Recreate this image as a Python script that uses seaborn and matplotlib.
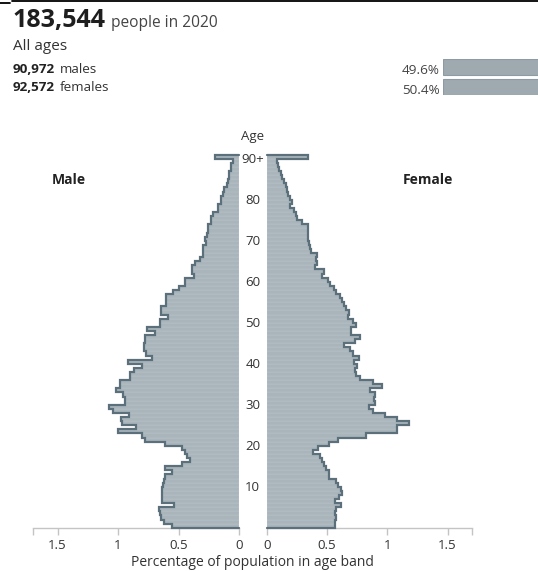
import numpy as np
import pandas as pd
import matplotlib
matplotlib.use("Agg")
import matplotlib.pyplot as plt
from matplotlib.lines import Line2D
import matplotlib.transforms as mtransforms
import seaborn as sns

# ---------------- data ----------------
ages = list(range(91))
age_tick_values = [10, 20, 30, 40, 50, 60, 70, 80, 90]
age_tick_labels = ["10", "20", "30", "40", "50", "60", "70", "80", "90+"]

male = [0.55, 0.62, 0.645, 0.65, 0.66, 0.54, 0.635, 0.64, 0.64, 0.64,
        0.625, 0.62, 0.61, 0.555, 0.61, 0.47, 0.405, 0.43, 0.445, 0.47,
        0.61, 0.78, 0.805, 1.00, 0.85, 0.97, 0.975, 0.905, 1.04, 1.075,
        0.94, 0.94, 0.96, 1.02, 0.98, 0.98, 0.90, 0.90, 0.87, 0.80,
        0.915, 0.72, 0.77, 0.785, 0.785, 0.775, 0.775, 0.695, 0.76, 0.655,
        0.655, 0.59, 0.645, 0.645, 0.60, 0.60, 0.60, 0.545, 0.50, 0.445,
        0.445, 0.37, 0.39, 0.39, 0.364, 0.322, 0.295, 0.295, 0.295, 0.275,
        0.28, 0.267, 0.253, 0.253, 0.231, 0.231, 0.217, 0.17, 0.17, 0.149,
        0.149, 0.13, 0.12, 0.10, 0.095, 0.08, 0.08, 0.066, 0.066, 0.052,
        0.20]

female = [0.57, 0.57, 0.578, 0.57, 0.578, 0.614, 0.565, 0.597, 0.625, 0.614,
          0.592, 0.578, 0.515, 0.515, 0.488, 0.477, 0.455, 0.44, 0.385, 0.427,
          0.515, 0.592, 0.826, 1.08, 1.08, 1.176, 1.08, 0.978, 0.88, 0.85,
          0.895, 0.887, 0.90, 0.854, 0.955, 0.881, 0.771, 0.744, 0.73, 0.752,
          0.725, 0.766, 0.716, 0.69, 0.642, 0.73, 0.771, 0.70, 0.70, 0.738,
          0.716, 0.675, 0.68, 0.661, 0.642, 0.625, 0.606, 0.578, 0.559, 0.523,
          0.509, 0.46, 0.476, 0.40, 0.413, 0.405, 0.413, 0.367, 0.36, 0.35,
          0.344, 0.339, 0.339, 0.344, 0.289, 0.253, 0.239, 0.228, 0.196, 0.207,
          0.19, 0.179, 0.168, 0.157, 0.14, 0.129, 0.118, 0.10, 0.09, 0.083,
          0.344]

x_ticks = [0, 0.5, 1, 1.5]
x_tick_labels = ["0", "0.5", "1", "1.5"]

total_people = "183,544"
year_text = "people in 2020"
sex_labels = ["males", "females"]
sex_counts = ["90,972", "92,572"]
sex_shares = [49.6, 50.4]

# ---------------- style ----------------
sns.set_theme(style="white")
plt.rcParams['font.family'] = ['Open Sans', 'DejaVu Sans']

FILL = "#a9b4bb"
STRIPE = "#bcc5cb"
EDGE = "#5c707b"
AXIS = "#c4c4c4"
TXT = "#333333"

W, H = 538, 571
fig = plt.figure(figsize=(W / 100, H / 100), dpi=100)
fig.patch.set_facecolor("white")


def ax_rect(x0, y0, x1, y1):
    return [x0 / W, 1 - y1 / H, (x1 - x0) / W, (y1 - y0) / H]


ax_m = fig.add_axes(ax_rect(32.7, 154.6, 239.0, 527.7))
ax_f = fig.add_axes(ax_rect(266.7, 154.6, 472.3, 527.7))

df = pd.DataFrame({"age": ages, "male": male, "female": female})

XMAX = 1.705
for ax, col, xlim in ((ax_m, "male", (XMAX, 0)), (ax_f, "female", (0, XMAX))):
    sns.barplot(data=df, x=col, y="age", orient="h", native_scale=True,
                width=1.0, color=FILL, saturation=1, edgecolor=STRIPE,
                linewidth=0.35, errorbar=None, ax=ax)
    vals = df[col].to_numpy()
    xs = np.concatenate([[0], np.repeat(vals, 2), [0]])
    ys = np.concatenate([[-0.5], np.ravel(np.column_stack([df["age"] - 0.5, df["age"] + 0.5])), [90.5]])
    ax.plot(xs, ys, color=EDGE, lw=1.6, solid_joinstyle="miter", clip_on=False, zorder=5)
    ax.set_xlim(*xlim)
    ax.set_ylim(-0.5, 90.5)
    ax.set_xticks(x_ticks + [XMAX])
    ax.set_xticklabels(x_tick_labels + [""])
    ax.set_yticks([])
    ax.set_xlabel("")
    ax.set_ylabel("")
    for s in ("left", "right", "top"):
        ax.spines[s].set_visible(False)
    ax.spines["bottom"].set_color(AXIS)
    ax.spines["bottom"].set_linewidth(1.0)
    ax.tick_params(axis="x", bottom=True, direction="out", length=5, width=1.0,
                   color=AXIS, labelsize=9.5, labelcolor=TXT, pad=3)
    ax.set_facecolor("none")

# age labels between panels
blend = mtransforms.blended_transform_factory(fig.transFigure, ax_m.transData)
shift = mtransforms.ScaledTranslation(0, -2.5 / 100, fig.dpi_scale_trans)
for v, lab in zip(age_tick_values, age_tick_labels):
    fig.text(252.7 / W, v, lab, transform=blend + shift, ha="center", va="center",
             fontsize=9.5, color=TXT)
fig.text(252.7 / W, 1 - 140 / H, "Age", ha="center", va="baseline", fontsize=9.5, color=TXT)

fig.text(69 / W, 1 - 184 / H, "Male", ha="center", va="baseline", fontsize=10,
         fontweight="bold", color="#222222")
fig.text(428 / W, 1 - 184 / H, "Female", ha="center", va="baseline", fontsize=10,
         fontweight="bold", color="#222222")

fig.text(252.7 / W, 1 - 566.5 / H, "Percentage of population in age band",
         ha="center", va="baseline", fontsize=10, color=TXT)

# ---------------- header ----------------
renderer = fig.canvas.get_renderer()


def pair(x, y, bold_txt, reg_txt, size_b, size_r, col_b="#222222", col_r=TXT):
    t = fig.text(x / W, 1 - y / H, bold_txt, ha="left", va="baseline",
                 fontsize=size_b, fontweight="bold", color=col_b)
    bb = t.get_window_extent(renderer=renderer)
    fig.text((bb.x1 + size_r * 0.45) / W, 1 - y / H, reg_txt, ha="left",
             va="baseline", fontsize=size_r, color=col_r)


pair(13, 26.7, total_people, year_text, 18, 11.2, col_b="#1e1e1e", col_r="#444444")
fig.text(13 / W, 1 - 50.5 / H, "All ages", ha="left", va="baseline", fontsize=11, color=TXT)
pair(13, 72.7, sex_counts[0], sex_labels[0], 9.7, 9.7)
pair(13, 91.2, sex_counts[1], sex_labels[1], 9.7, 9.7)

# share bars
ax_h = fig.add_axes(ax_rect(443.3, 59.3, 538, 95.3))
hdf = pd.DataFrame({"sex": sex_labels, "share": sex_shares})
sns.barplot(data=hdf, x="share", y="sex", orient="h", width=0.79, color="#9ea9b0",
            saturation=1, edgecolor="#8f9ba2", linewidth=0.8, errorbar=None, ax=ax_h)
ax_h.set_xlim(0, 40)
ax_h.set_ylim(1.395, -0.395)
ax_h.axis("off")
for i, v in enumerate(sex_shares):
    fig.text(439.5 / W, 1 - (74.2 + 19.5 * i) / H, f"{v:.1f}%", ha="right", va="baseline",
             fontsize=9.7, color="#444444")

# top border line
fig.add_artist(Line2D([11.7 / W, 1], [1 - 0.8 / H, 1 - 0.8 / H], transform=fig.transFigure,
                      color="black", lw=1.3))
fig.add_artist(Line2D([0, 10 / W], [1 - 2.5 / H, 1 - 2.5 / H], transform=fig.transFigure,
                      color="black", lw=1.3))

fig.savefig("out.png", dpi=100, facecolor="white")
